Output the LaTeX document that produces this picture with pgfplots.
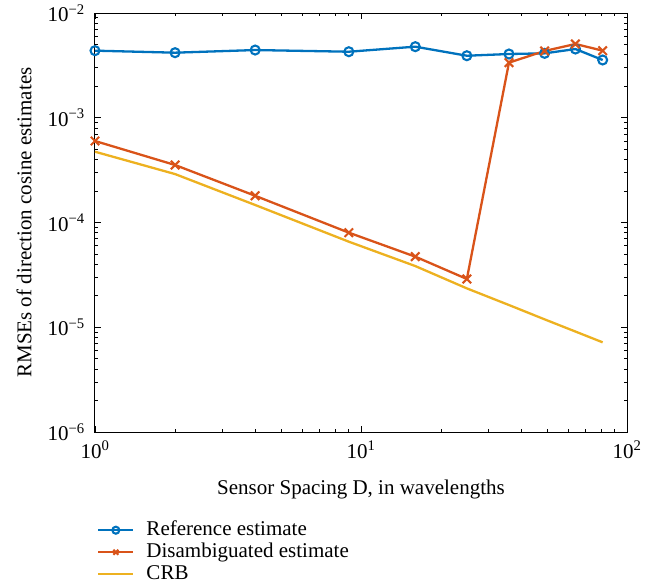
\documentclass[border=0pt]{standalone}
\usepackage{fontspec}
\setmainfont{Liberation Serif}
\usepackage{pgfplots}
\pgfplotsset{compat=1.18}
\definecolor{mblue}{rgb}{0,0.447,0.741}
\definecolor{morange}{rgb}{0.85,0.325,0.098}
\definecolor{myellow}{rgb}{0.929,0.694,0.125}
\newcommand{\ten}[1]{10\textsuperscript{#1}}
\begin{document}
\fontsize{21}{23}\selectfont
\begin{tikzpicture}
\begin{loglogaxis}[
  scale only axis, width=532pt, height=419pt,
  xmin=1, xmax=100, ymin=1e-6, ymax=1e-2,
  xtick={1,10,100}, xticklabels={\ten{0},\ten{1},\ten{2}},
  minor xtick={2,3,4,5,6,7,8,9,20,30,40,50,60,70,80,90},
  ytick={1e-6,1e-5,1e-4,1e-3,1e-2},
  yticklabels={\ten{−6},\ten{−5},\ten{−4},\ten{−3},\ten{−2}},
  minor ytick={2e-6,3e-6,4e-6,5e-6,6e-6,7e-6,8e-6,9e-6,
               2e-5,3e-5,4e-5,5e-5,6e-5,7e-5,8e-5,9e-5,
               2e-4,3e-4,4e-4,5e-4,6e-4,7e-4,8e-4,9e-4,
               2e-3,3e-3,4e-3,5e-3,6e-3,7e-3,8e-3,9e-3},
  tick align=inside, xtick pos=both, ytick pos=both,
  major tick length=6pt, minor tick length=3.5pt,
  every tick/.style={black, line width=0.8pt},
  axis line style={line width=1pt},
  tick label style={font=\fontsize{21}{23}\selectfont},
  yticklabel style={xshift=-3pt},
  xticklabel style={yshift=-2pt},
  xlabel={Sensor Spacing D, in wavelengths},
  ylabel={RMSEs of direction cosine estimates},
  every axis x label/.style={at={(rel axis cs:0.5,0)}, anchor=center, yshift=-57pt},
  every axis y label/.style={at={(rel axis cs:0,0.5)}, xshift=-71pt, rotate=90, anchor=center},
  legend style={at={(rel axis cs:0,0)}, anchor=north west, xshift=2pt, yshift=-87pt,
    draw=none, fill=none, inner sep=0pt, row sep=0pt,
    nodes={inner xsep=12pt, inner ysep=1pt, text height=15pt, text depth=5pt},
    font=\fontsize{21}{23}\selectfont},
  legend cell align=left,
  legend image code/.code={\draw[mark repeat=2,mark phase=2,#1,mark size=3.5pt] plot coordinates {(0pt,0pt)(17.5pt,0pt)(35pt,0pt)};},
]
\addplot[mblue, line width=2.3pt, mark=o, mark size=4.5pt, mark options={line width=2.1pt}] coordinates {
 (1,4.37e-3)(2,4.18e-3)(4,4.43e-3)(9,4.27e-3)(16,4.77e-3)(25,3.91e-3)(36,4.06e-3)(49,4.12e-3)(64,4.53e-3)(81,3.56e-3)};
\addlegendentry{Reference estimate}
\addplot[morange, line width=2.3pt, mark=x, mark size=6pt, mark options={line width=2.1pt}] coordinates {
 (1,6.0e-4)(2,3.54e-4)(4,1.80e-4)(9,8.0e-5)(16,4.72e-5)(25,2.89e-5)(36,3.36e-3)(49,4.34e-3)(64,5.06e-3)(81,4.37e-3)};
\addlegendentry{Disambiguated estimate}
\addplot[myellow, line width=2.3pt] coordinates {
 (1,4.74e-4)(2,2.90e-4)(4,1.47e-4)(9,6.56e-5)(16,3.84e-5)(25,2.35e-5)(36,1.63e-5)(49,1.19e-5)(64,9.1e-6)(81,7.18e-6)};
\addlegendentry{CRB}
\end{loglogaxis}
\pgfresetboundingbox
\path[use as bounding box] ([shift={(-95pt,-152pt)}]current axis.south west) rectangle ++(661pt,584pt);
\end{tikzpicture}
\end{document}
